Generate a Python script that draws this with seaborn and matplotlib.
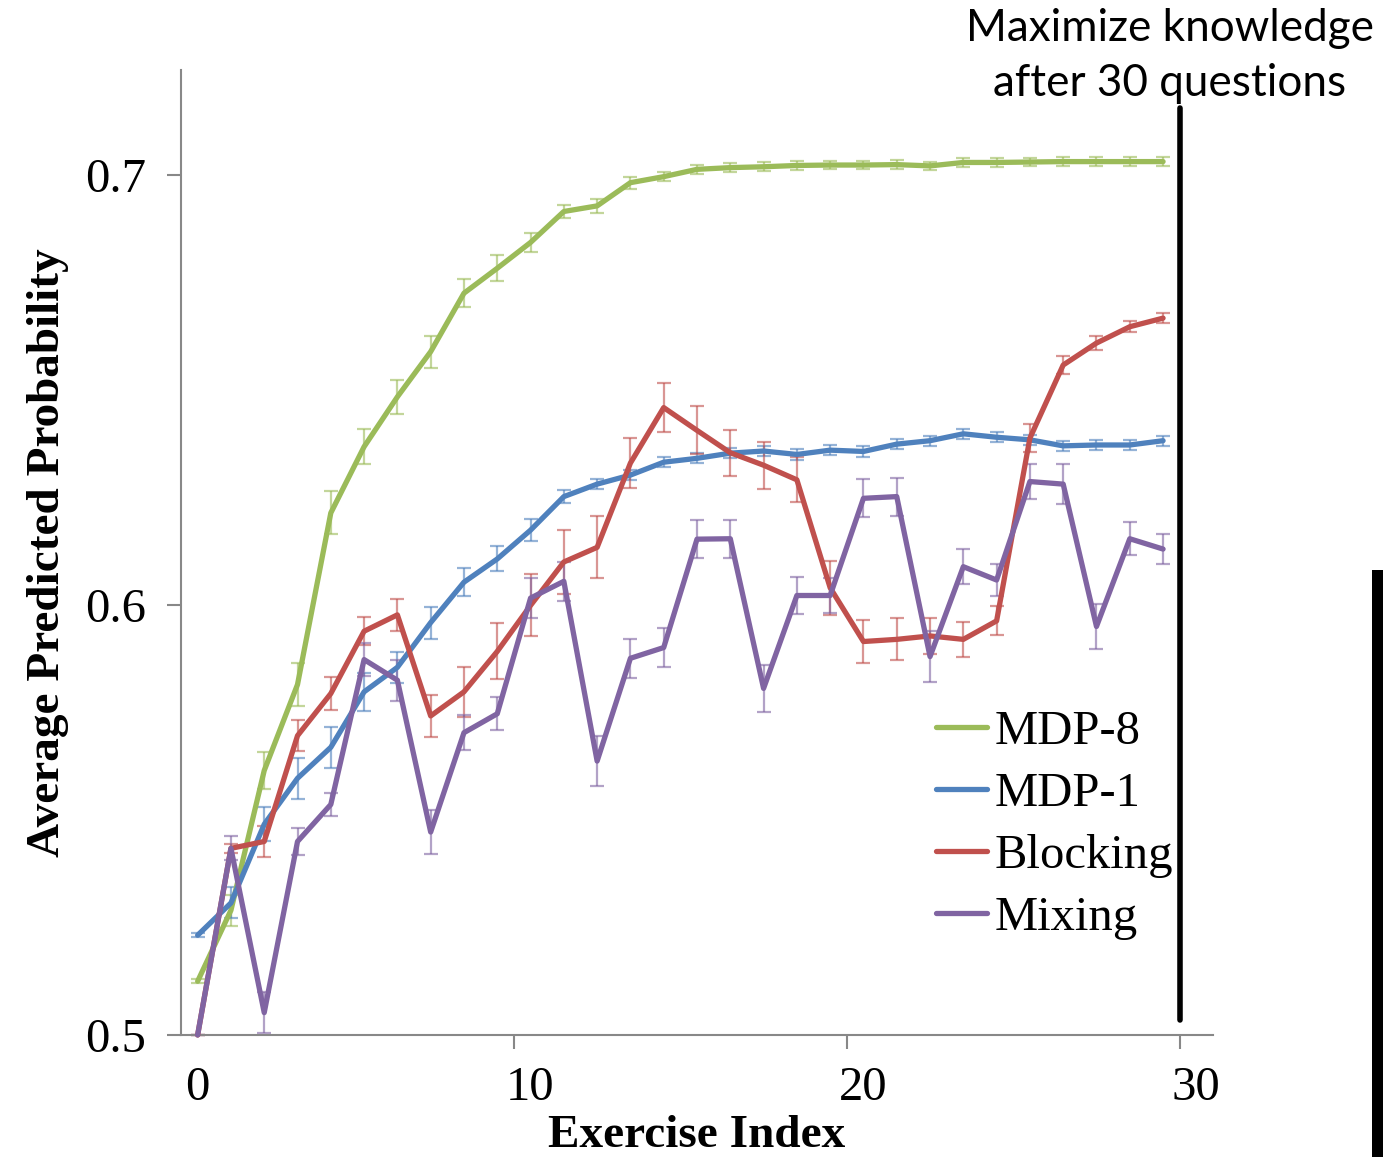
import numpy as np
import pandas as pd
import matplotlib
matplotlib.use("Agg")
import matplotlib.pyplot as plt
import seaborn as sns
from matplotlib.patches import Rectangle
from matplotlib.lines import Line2D

# ---------------- data ----------------
exercise_index = list(range(30))
series_names = ["MDP-8", "MDP-1", "Blocking", "Mixing"]

mdp8 = [0.5125, 0.529, 0.5615, 0.5815, 0.6214, 0.6368, 0.6484, 0.6589, 0.6725, 0.6783,
        0.6843, 0.6915, 0.6928, 0.6982, 0.6996, 0.7013, 0.7017, 0.7019, 0.7022, 0.7023,
        0.7023, 0.7024, 0.7021, 0.7029, 0.7029, 0.7030, 0.7031, 0.7031, 0.7031, 0.7031]
mdp8_err = [0.0005, 0.0036, 0.0042, 0.0049, 0.0050, 0.0041, 0.0039, 0.0037, 0.0033, 0.0030,
            0.0023, 0.0015, 0.0016, 0.0014, 0.0011, 0.0010, 0.0010, 0.0010, 0.0010, 0.0010,
            0.0010, 0.0010, 0.0010, 0.0010, 0.0010, 0.0010, 0.0010, 0.0010, 0.0010, 0.0010]

mdp1 = [0.5232, 0.5307, 0.5490, 0.5597, 0.5669, 0.5798, 0.5855, 0.5959, 0.6053, 0.6107,
        0.6174, 0.6252, 0.6281, 0.6302, 0.6332, 0.6341, 0.6353, 0.6358, 0.6350, 0.6360,
        0.6357, 0.6374, 0.6382, 0.6398, 0.6390, 0.6384, 0.6370, 0.6372, 0.6372, 0.6382]
mdp1_err = [0.0005, 0.0036, 0.0040, 0.0048, 0.0048, 0.0044, 0.0036, 0.0037, 0.0032, 0.0029,
            0.0025, 0.0015, 0.0012, 0.0012, 0.0012, 0.0012, 0.0012, 0.0012, 0.0012, 0.0012,
            0.0012, 0.0012, 0.0012, 0.0012, 0.0012, 0.0012, 0.0012, 0.0012, 0.0012, 0.0012]

blocking = [0.5000, 0.5434, 0.5450, 0.5696, 0.5794, 0.5939, 0.5977, 0.5742, 0.5798, 0.5892,
            0.5999, 0.6100, 0.6134, 0.6330, 0.6459, 0.6406, 0.6354, 0.6325, 0.6291, 0.6040,
            0.5915, 0.5920, 0.5928, 0.5920, 0.5963, 0.6388, 0.6558, 0.6609, 0.6647, 0.6667]
blocking_err = [0.0000, 0.0010, 0.0037, 0.0036, 0.0038, 0.0033, 0.0037, 0.0048, 0.0058, 0.0065,
                0.0072, 0.0075, 0.0072, 0.0058, 0.0057, 0.0056, 0.0053, 0.0055, 0.0052, 0.0063,
                0.0049, 0.0049, 0.0042, 0.0040, 0.0034, 0.0032, 0.0022, 0.0016, 0.0013, 0.0011]

mixing = [0.5000, 0.5434, 0.5052, 0.5450, 0.5536, 0.5873, 0.5825, 0.5472, 0.5703, 0.5747,
          0.6016, 0.6055, 0.5637, 0.5876, 0.5901, 0.6153, 0.6154, 0.5806, 0.6022, 0.6022,
          0.6248, 0.6252, 0.5880, 0.6089, 0.6058, 0.6287, 0.6281, 0.5950, 0.6154, 0.6130]
mixing_err = [0.0000, 0.0028, 0.0048, 0.0031, 0.0026, 0.0038, 0.0048, 0.0051, 0.0040, 0.0038,
              0.0047, 0.0045, 0.0058, 0.0046, 0.0045, 0.0044, 0.0044, 0.0055, 0.0044, 0.0040,
              0.0044, 0.0044, 0.0060, 0.0041, 0.0037, 0.0041, 0.0047, 0.0052, 0.0038, 0.0035]

x_tick_labels = [0, 10, 20, 30]
y_tick_labels = [0.5, 0.6, 0.7]
marker_question = 29.5

values = {"MDP-8": mdp8, "MDP-1": mdp1, "Blocking": blocking, "Mixing": mixing}
errors = {"MDP-8": mdp8_err, "MDP-1": mdp1_err, "Blocking": blocking_err, "Mixing": mixing_err}
colors = {"MDP-8": "#9BBB59", "MDP-1": "#4F81BD", "Blocking": "#C0504D", "Mixing": "#8064A2"}

df = pd.concat([pd.DataFrame({"Exercise Index": exercise_index, "value": values[s], "series": s})
                for s in series_names], ignore_index=True)

# ---------------- figure ----------------
sns.set_theme(style="white")
plt.rcParams["font.family"] = ["Liberation Serif", "DejaVu Serif"]
plt.rcParams["text.color"] = "black"
plt.rcParams["xtick.color"] = "black"
plt.rcParams["ytick.color"] = "black"
plt.rcParams["axes.labelcolor"] = "black"

W, H = 1383, 1157
fig = plt.figure(figsize=(W / 100, H / 100), dpi=100)
ax = fig.add_axes([181 / W, 122 / H, 1032 / W, 965 / H])

for s in series_names:
    ax.errorbar(exercise_index, values[s], yerr=errors[s], fmt="none",
                ecolor=colors[s], alpha=0.6, elinewidth=1.6, capsize=5, capthick=1.6,
                zorder=2, clip_on=False)

sns.lineplot(data=df, x="Exercise Index", y="value", hue="series", hue_order=series_names,
             palette=colors, linewidth=3.8, ax=ax, legend=False, zorder=3)
for ln in ax.lines:
    ln.set_clip_on(False)
    ln.set_solid_joinstyle("round")

ax.set_xlim(-0.5, 30.5)
ax.set_ylim(0.5, 0.7244)

ax.set_xticks(x_tick_labels)
ax.set_xticklabels([str(v) for v in x_tick_labels])
ax.set_xticks([9.5, 19.5, 29.5], minor=True)
ax.tick_params(axis="x", which="major", length=0, pad=22, labelsize=35, labelcolor="black")
ax.tick_params(axis="x", which="minor", length=10, width=1.5, color="#888888", direction="out",
               bottom=True)
ax.set_yticks(y_tick_labels)
ax.set_yticklabels([f"{v:.1f}" for v in y_tick_labels])
ax.tick_params(axis="y", which="major", length=10, width=1.5, color="#888888", direction="out",
               left=True, pad=15, labelsize=35, labelcolor="black")

for side in ["top", "right"]:
    ax.spines[side].set_visible(False)
for side in ["left", "bottom"]:
    ax.spines[side].set_color("#888888")
    ax.spines[side].set_linewidth(1.5)

ax.set_xlabel("Exercise Index", fontsize=34, fontweight="bold", labelpad=4, color="black")
ax.set_ylabel("Average Predicted Probability", fontsize=34, fontweight="bold", labelpad=12,
              color="black")

# marker line at 30 questions
ax.plot([marker_question, marker_question], [0.5035, 0.7156], color="black", lw=4,
        clip_on=False, zorder=4)

# legend
handles = [Line2D([0], [0], color=colors[s], lw=3.8) for s in series_names]
fig.legend(handles, series_names, loc="upper left",
           bbox_to_anchor=(936 / W, 1 - 710 / H), bbox_transform=fig.transFigure,
           frameon=False, fontsize=35, handlelength=1.05, handletextpad=0.15,
           labelspacing=0.37, borderpad=0, borderaxespad=0, labelcolor="black")

fig.text(1170 / W, 1 - 56 / H, "Maximize knowledge\nafter 30 questions", ha="center",
         va="center", family=["Lato", "DejaVu Sans"], fontsize=31.7, linespacing=1.44,
         color="black")

fig.patches.append(Rectangle((1372 / W, 0), 11 / W, 587 / H, transform=fig.transFigure,
                             facecolor="black", edgecolor="none"))

fig.savefig("out.png", dpi=100)
